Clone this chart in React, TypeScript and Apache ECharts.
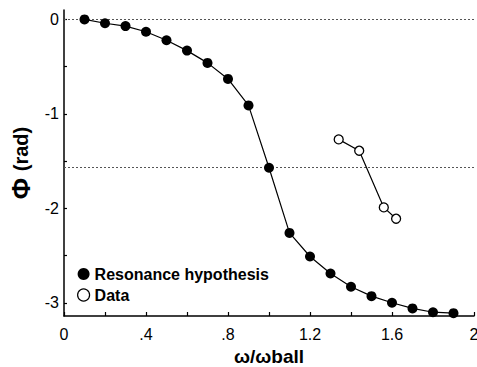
import React, { useEffect, useRef } from "react";
import * as echarts from "echarts";

const resonanceX = [0.1, 0.2, 0.3, 0.4, 0.5, 0.6, 0.7, 0.8, 0.9, 1.0, 1.1, 1.2, 1.3, 1.4, 1.5, 1.6, 1.7, 1.8, 1.9];
const resonanceY = [0.0, -0.04, -0.07, -0.13, -0.22, -0.33, -0.46, -0.63, -0.91, -1.57, -2.26, -2.51, -2.69, -2.83, -2.93, -3.0, -3.06, -3.1, -3.11];
const dataX = [1.34, 1.44, 1.56, 1.62];
const dataY = [-1.27, -1.39, -1.99, -2.11];
const refLines = [0, -1.5708];
const xTicks = [0, 0.2, 0.4, 0.6, 0.8, 1.0, 1.2, 1.4, 1.6, 1.8, 2.0];
const xLabels = [0, 0.4, 0.8, 1.2, 1.6, 2.0];
const yTicks = [0, -0.5, -1, -1.5, -2, -2.5, -3];
const yLabels = [0, -1, -2, -3];

const FONT = "'Liberation Sans', Arial, sans-serif";

function fmtX(v: number) {
  const r = Math.round(v * 10) / 10;
  if (r === 0) return "0";
  if (r === 2) return "2";
  if (r < 1) return String(r).replace(/^0/, "");
  return r.toFixed(1);
}

export default function App() {
  const ref = useRef<HTMLDivElement>(null);
  useEffect(() => {
    if (!ref.current) return;
    const chart = echarts.init(ref.current, undefined, { renderer: "svg" });
    chart.setOption({
      animation: false,
      backgroundColor: "#fff",
      grid: { left: 64, right: 3, top: 10, bottom: 51, containLabel: false, outerBoundsMode: "none" },
      legend: {
        orient: "vertical",
        left: 72,
        top: 261,
        itemGap: 5,
        itemWidth: 12,
        itemHeight: 12,
        textStyle: { fontFamily: FONT, fontSize: 16, fontWeight: "bold", color: "#000", padding: [0, 0, 0, 0] },
        data: [
          { name: "Resonance hypothesis", icon: "circle", itemStyle: { color: "#000", borderWidth: 0 } },
          { name: "Data", icon: "circle", itemStyle: { color: "#fff", borderColor: "#000", borderWidth: 1.2 } },
        ],
      },
      xAxis: {
        type: "value",
        min: 0,
        max: 2,
        name: "ω/ωball",
        nameLocation: "middle",
        nameGap: 29,
        nameTextStyle: { fontFamily: FONT, fontSize: 19, fontWeight: "bold", color: "#000" },
        axisLine: { show: true, onZero: false, lineStyle: { color: "#000", width: 1.5 } },
        axisTick: { show: true, inside: true, length: 4, customValues: xTicks, lineStyle: { color: "#000", width: 1.2 } },
        axisLabel: { customValues: xLabels, formatter: (v: number) => fmtX(v), fontFamily: FONT, fontSize: 16, color: "#000", margin: 10 },
        splitLine: { show: false },
      },
      yAxis: {
        type: "value",
        min: -3.14,
        max: 0.1,
        name: "{phi|Φ}  {rad|(rad)}",
        nameLocation: "middle",
        nameRotate: 90,
        nameGap: 30,
        nameTextStyle: {
          fontFamily: FONT,
          color: "#000",
          rich: {
            phi: { fontFamily: FONT, fontSize: 26, fontWeight: "bold", color: "#000" },
            rad: { fontFamily: FONT, fontSize: 20, fontWeight: "bold", color: "#000" },
          },
        },
        axisLine: { show: true, onZero: false, lineStyle: { color: "#000", width: 1.5 } },
        axisTick: { show: true, inside: true, length: 3, customValues: yTicks, lineStyle: { color: "#000", width: 1.2 } },
        axisLabel: { customValues: yLabels, formatter: (v: number) => String(Math.round(v)), fontFamily: FONT, fontSize: 16, color: "#000", margin: 5 },
        splitLine: { show: false },
      },
      series: [
        {
          name: "Resonance hypothesis",
          type: "line",
          data: resonanceX.map((x, i) => [x, resonanceY[i]]),
          symbol: "circle",
          symbolSize: 10,
          itemStyle: { color: "#000" },
          lineStyle: { color: "#000", width: 1.2 },
          z: 3,
          markLine: {
            silent: true,
            symbol: "none",
            label: { show: false },
            lineStyle: { color: "#555", type: [2, 2], width: 1 },
            data: refLines.map((v) => ({ yAxis: v })),
            z: 1,
          },
        },
        {
          name: "Data",
          type: "line",
          data: dataX.map((x, i) => [x, dataY[i]]),
          symbol: "circle",
          symbolSize: 9,
          showAllSymbol: true,
          itemStyle: { color: "#fff", borderColor: "#000", borderWidth: 1.3 },
          lineStyle: { color: "#000", width: 1.2 },
          z: 4,
        },
      ],
    });
    return () => chart.dispose();
  }, []);
  return <div ref={ref} style={{ width: 477, height: 367, position: "absolute", left: 0, top: 0 }} />;
}
